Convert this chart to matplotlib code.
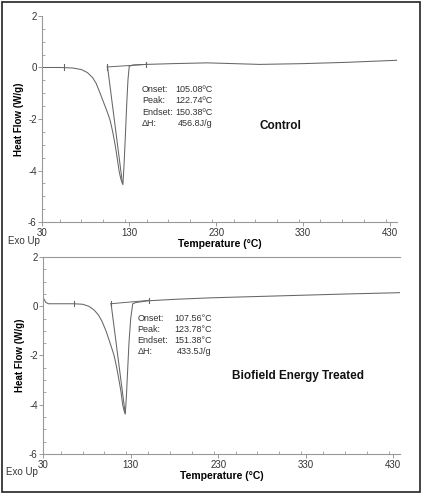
import matplotlib
matplotlib.use("Agg")
import matplotlib.pyplot as plt
from matplotlib.patches import Rectangle
from matplotlib.ticker import MultipleLocator

plt.rcParams["font.family"] = ["Liberation Sans", "DejaVu Sans"]
plt.rcParams["axes.unicode_minus"] = False

# Control DSC thermogram
ctrl_temp = [30, 50, 65, 75, 82, 88, 92, 96.5, 101, 105, 108, 111, 114, 116.5, 118.5,
             120.5, 122.7, 124, 125.5, 127, 128.5, 130, 135, 150, 180, 220, 250, 280,
             330, 380, 438]
ctrl_flow = [0.0, 0.0, -0.02, -0.08, -0.2, -0.4, -0.62, -1.0, -1.4, -1.75, -2.05, -2.5,
             -3.05, -3.6, -4.05, -4.35, -4.55, -3.8, -2.7, -1.5, -0.5, 0.05, 0.1, 0.12,
             0.15, 0.18, 0.15, 0.12, 0.15, 0.2, 0.28]
ctrl_marks = [55, 104.5, 149.5]
ctrl_onset = (105.08, 0.02)
ctrl_peak = (122.2, -4.5)
ctrl_base_end = (149.5, 0.12)
ctrl_labels = ["Onset:", "Peak:", "Endset:", "\u0394H:"]
ctrl_values = ["105.08\u00baC", "122.74\u00baC", "150.38\u00baC", "456.8J/g"]

# Biofield treated DSC thermogram
trt_temp = [30, 31, 33, 36, 50, 65, 75, 82, 88, 93, 97, 101.7, 106, 111, 114, 116.6,
            119, 120.8, 122.5, 123.8, 125, 126.5, 128, 130, 132.3, 136, 150, 180, 221,
            280, 330, 380, 438]
trt_flow = [0.33, 0.28, 0.15, 0.1, 0.1, 0.1, 0.08, 0.0, -0.15, -0.35, -0.6, -1.0,
            -1.45, -2.0, -2.5, -3.0, -3.5, -4.0, -4.25, -4.38, -3.7, -2.6, -1.5, -0.5,
            0.1, 0.15, 0.22, 0.28, 0.34, 0.4, 0.45, 0.5, 0.55]
trt_marks = [65, 107, 151.4]
trt_onset = (107.56, 0.1)
trt_peak = (123.6, -4.33)
trt_base_end = (151.4, 0.24)
trt_labels = ["Onset:", "Peak:", "Endset:", "\u0394H:"]
trt_values = ["107.56\u00b0C", "123.78\u00b0C", "151.38\u00b0C", "433.5J/g"]

x_ticks = [30, 130, 230, 330, 430]
y_ticks = [2, 0, -2, -4, -6]

LINE = "#666666"
AXC = "#999999"
TXT = "#333333"


def setup_axes(ax, top_line=False):
    ax.set_xlim(30, 438)
    ax.set_ylim(-6, 2)
    ax.spines["right"].set_visible(False)
    ax.spines["top"].set_visible(top_line)
    for side in ["left", "bottom", "top"]:
        ax.spines[side].set_color(AXC)
        ax.spines[side].set_linewidth(0.8)
    ax.set_xticks(x_ticks)
    ax.set_yticks(y_ticks)
    ax.xaxis.set_minor_locator(MultipleLocator(25))
    ax.yaxis.set_minor_locator(MultipleLocator(0.5))
    ax.tick_params(which="major", direction="out", length=3, width=0.7, color=AXC,
                   labelsize=7, labelcolor=TXT, pad=1)
    ax.tick_params(which="minor", direction="in", length=2, width=0.6, color=AXC)
    ax.tick_params(top=False, right=False, which="both")
    ax.set_ylabel("Heat Flow (W/g)", fontsize=7, fontweight="bold", labelpad=3)
    ax.set_xlabel("Temperature (\u00b0C)", fontsize=7.5, fontweight="bold", labelpad=1)


def draw_panel(ax, temp, flow, marks, onset, peak, base_end, labels, values,
               lab_x, val_x, y0, dy):
    ax.plot(temp, flow, color=LINE, lw=0.75)
    ax.plot([onset[0], peak[0]], [onset[1], peak[1]], color=LINE, lw=0.75)
    ax.plot([marks[1], base_end[0]], [onset[1], base_end[1]], color=LINE, lw=0.7)
    for m in marks:
        yv = onset[1] if m < base_end[0] - 1 else base_end[1]
        ax.plot([m, m], [yv - 0.1, yv + 0.1], color=LINE, lw=0.8)
    for i, (lab, val) in enumerate(zip(labels, values)):
        ax.text(lab_x, y0 - i * dy, lab, fontsize=6.5, color=TXT, va="center")
        ax.text(val_x, y0 - i * dy, val, fontsize=6.5, color=TXT, va="center",
                ha="right")


fig = plt.figure(figsize=(4.26, 4.98), dpi=100)

ax1 = fig.add_axes([0.0993, 0.5542, 0.8326, 0.4137])
setup_axes(ax1)
draw_panel(ax1, ctrl_temp, ctrl_flow, ctrl_marks, ctrl_onset, ctrl_peak, ctrl_base_end,
           ctrl_labels, ctrl_values, 144.5, 226.3, -0.87, 0.43)
ax1.text(303.8, -2.27, "Control", fontsize=8.5, fontweight="bold", ha="center",
         va="center", color="#111111")

ax2 = fig.add_axes([0.1016, 0.0884, 0.8373, 0.3956])
setup_axes(ax2, top_line=True)
draw_panel(ax2, trt_temp, trt_flow, trt_marks, trt_onset, trt_peak, trt_base_end,
           trt_labels, trt_values, 137.6, 222.7, -0.48, 0.45)
ax2.text(321.4, -2.84, "Biofield Energy Treated", fontsize=8.5, fontweight="bold",
         ha="center", va="center", color="#111111")

fig.text(8 / 426, 1 - 241 / 498, "Exo Up", fontsize=7, color=TXT, va="center")
fig.text(6 / 426, 1 - 472 / 498, "Exo Up", fontsize=7, color=TXT, va="center")

fig.add_artist(Rectangle((2 / 426, 1 - 492 / 498), 418 / 426, 490 / 498,
                         transform=fig.transFigure, fill=False, lw=1.2,
                         edgecolor="#222222"))

fig.savefig("out.png", dpi=100)
